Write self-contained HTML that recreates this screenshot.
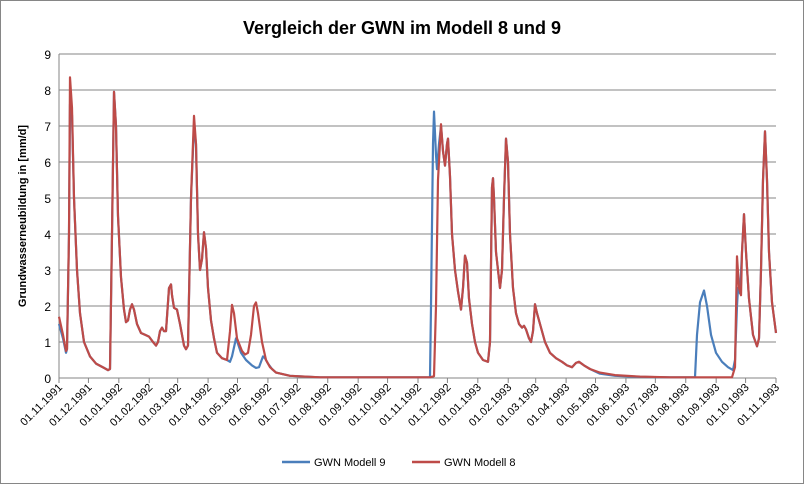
<!DOCTYPE html>
<html><head><meta charset="utf-8"><style>
body{margin:0;background:#fff}
svg{display:block;font-family:"Liberation Sans",sans-serif}
</style></head><body>
<svg id="s" width="804" height="484" xmlns="http://www.w3.org/2000/svg">
<rect x="0.5" y="0.5" width="803" height="483" fill="#fff" stroke="#868686"/>
<text x="402" y="34" text-anchor="middle" font-size="18" font-weight="bold" fill="#000">Vergleich der GWN im Modell 8 und 9</text>
<g id="grid"></g>
<text transform="translate(26,216) rotate(-90)" text-anchor="middle" font-size="11" font-weight="bold">Grundwasserneubildung in [mm/d]</text>
<line x1="282" y1="462" x2="310" y2="462" stroke="#4a7ebb" stroke-width="2.5"/>
<text x="314" y="466" font-size="11">GWN Modell 9</text>
<line x1="412" y1="462" x2="440" y2="462" stroke="#be4b48" stroke-width="2.5"/>
<text x="444" y="466" font-size="11">GWN Modell 8</text>
<polyline id="b" fill="none" stroke="#4a7ebb" stroke-width="2.2" stroke-linejoin="round"/>
<polyline id="r" fill="none" stroke="#be4b48" stroke-width="2.2" stroke-linejoin="round"/>
</svg>
<script>
var X0=59,X1=776,Y0=378,U=36,NS="http://www.w3.org/2000/svg",g=document.getElementById('grid');
function el(t,a,p){var e=document.createElementNS(NS,t);for(var k in a)e.setAttribute(k,a[k]);(p||g).appendChild(e);return e;}
for(var i=0;i<=9;i++){var y=Y0-i*U;el('line',{x1:X0,x2:X1,y1:y,y2:y,stroke:i?'#868686':'#868686','stroke-width':1});
var t=el('text',{x:X0-8,y:y+5,'text-anchor':'end','font-size':12});t.textContent=i;}
el('line',{x1:X0,x2:X0,y1:54,y2:Y0,stroke:'#868686'});
var start=Date.UTC(1991,10,1),tot=(Date.UTC(1993,10,1)-start)/864e5;
for(var m=0;m<=24;m++){var yy=1991+Math.floor((10+m)/12),mm=(10+m)%12;var d=(Date.UTC(yy,mm,1)-start)/864e5;var x=X0+d/tot*(X1-X0);
el('line',{x1:x,x2:x,y1:Y0,y2:Y0+5,stroke:'#868686'});
var s='01.'+(mm+1<10?'0':'')+(mm+1)+'.'+yy;
var t=el('text',{transform:'translate('+(x+4)+','+(Y0+10)+') rotate(-45)','text-anchor':'end','font-size':11});t.textContent=s;}
var R=[59,1.7,63,1.2,66,0.75,67,0.8,69,4,70,8.35,72,7.5,74,5,77,3,80,1.8,84,1.0,90,0.6,96,0.4,104,0.28,108,0.22,110,0.25,112,4,114,7.95,116,7,118,4.5,121,2.8,124,1.9,126,1.55,128,1.6,130,1.9,132,2.05,134,1.9,137,1.5,141,1.25,145,1.2,149,1.15,153,1.0,156,0.9,158,1.0,160,1.3,162,1.4,164,1.3,166,1.3,169,2.5,171,2.6,172,2.3,174,1.95,177,1.9,180,1.5,184,0.9,186,0.8,188,0.9,191,5,194,7.28,196,6.5,198,4,200,3,202,3.3,204,4.05,206,3.6,208,2.5,211,1.6,214,1.1,217,0.7,222,0.55,227,0.5,230,1.3,232,2.03,234,1.8,237,1.1,242,0.75,245,0.65,248,0.7,251,1.2,254,2,256,2.1,258,1.8,262,1.0,266,0.5,270,0.3,276,0.15,290,0.06,320,0.02,430,0.02,434,0.05,436,2,438,5.5,441,7.05,443,6.3,445,5.9,447,6.5,448,6.65,450,5.6,452,4,455,3,458,2.4,461,1.9,463,2.5,465,3.4,467,3.2,469,2.2,472,1.5,475,1.0,478,0.7,483,0.5,488,0.45,490,1,492,5.3,493,5.55,494,5,496,3.5,500,2.5,502,3,504,5,506,6.65,508,6,510,4,513,2.5,516,1.8,519,1.5,522,1.4,524,1.45,526,1.35,529,1.1,531,1.0,533,1.3,535,2.05,537,1.8,540,1.5,545,1.0,550,0.7,556,0.55,562,0.45,567,0.35,572,0.3,576,0.42,579,0.45,584,0.35,590,0.25,600,0.15,615,0.08,640,0.04,670,0.02,732,0.02,735,0.3,737,3.38,739,2.5,741,2.3,742,3.5,744,4.55,746,3.5,749,2.2,753,1.2,757,0.88,759,1.1,761,3,763,5.5,765,6.85,767,5.5,769,3.5,772,2.1,776,1.25];
var B=[59,1.5,63,1.1,66,0.7,67,0.8,69,4,70,7.6,72,7.3,74,5,77,3,80,1.8,84,1.0,90,0.6,96,0.4,104,0.28,108,0.22,110,0.25,112,4,114,7.95,116,7,118,4.5,121,2.8,124,1.9,126,1.55,128,1.6,130,1.9,132,2.05,134,1.9,137,1.5,141,1.25,145,1.2,149,1.15,153,1.0,156,0.9,158,1.0,160,1.3,162,1.4,164,1.3,166,1.3,169,2.5,171,2.6,172,2.3,174,1.95,177,1.9,180,1.5,184,0.9,186,0.8,188,0.9,191,5,194,7.0,196,6.5,198,4,200,3,202,3.3,204,4.05,206,3.6,208,2.5,211,1.6,214,1.1,217,0.7,222,0.55,227,0.5,230,0.45,232,0.6,236,1.1,238,0.95,241,0.7,246,0.5,252,0.35,256,0.28,259,0.3,263,0.6,265,0.55,268,0.4,272,0.25,276,0.15,290,0.06,320,0.02,430,0.02,431,2,433,6.5,434,7.4,436,6.2,437,5.8,439,6.5,441,7.0,443,6.3,445,5.9,447,6.5,448,6.65,450,5.6,452,4,455,3,458,2.4,461,1.9,463,2.5,465,3.4,467,3.2,469,2.2,472,1.5,475,1.0,478,0.7,483,0.5,488,0.45,490,1,492,5.3,493,5.55,494,5,496,3.5,500,2.5,502,3,504,5,506,6.65,508,6,510,4,513,2.5,516,1.8,519,1.5,522,1.4,524,1.45,526,1.35,529,1.1,531,1.0,533,1.3,535,2.05,537,1.8,540,1.5,545,1.0,550,0.7,556,0.55,562,0.45,567,0.35,572,0.3,576,0.42,579,0.45,584,0.35,590,0.25,600,0.12,615,0.06,640,0.03,670,0.02,695,0.02,697,1.2,700,2.1,704,2.43,707,2.0,711,1.2,716,0.7,722,0.45,728,0.3,733,0.22,735,0.5,737,2.0,738,2.5,740,2.35,742,3.5,744,4.55,746,3.5,749,2.2,753,1.2,757,0.88,759,1.1,761,3,763,5.5,765,6.85,767,5.5,769,3.5,772,2.1,776,1.25];
function pts(a){var s='';for(var i=0;i<a.length;i+=2)s+=a[i]+','+(Y0-a[i+1]*U).toFixed(1)+' ';return s;}
document.getElementById('b').setAttribute('points',pts(B));
document.getElementById('r').setAttribute('points',pts(R));
</script>
</body></html>
